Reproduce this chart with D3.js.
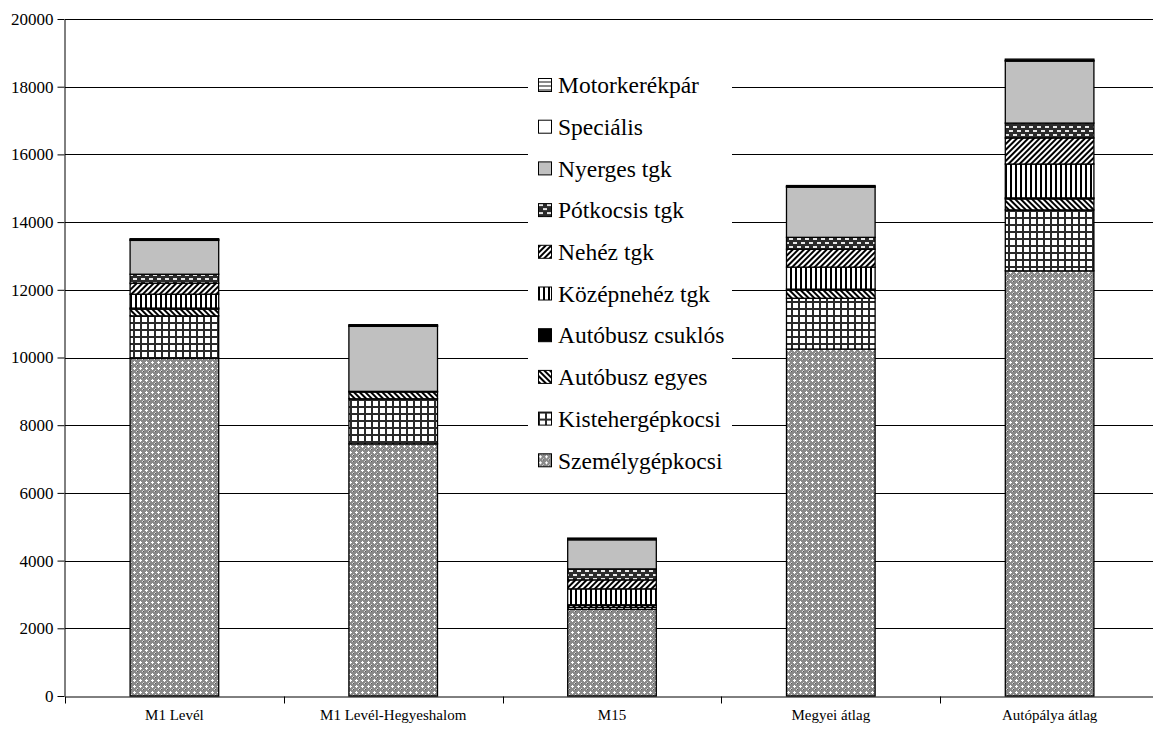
<!DOCTYPE html>
<html>
<head>
<meta charset="utf-8">
<style>
  body { margin: 0; background: #fff; }
  svg text { font-family: "Liberation Serif", "Times New Roman", "DejaVu Serif", serif; fill: #000; }
</style>
<title>Forgalom összetétele</title>
</head>
<body>
<script src="https://cdn.jsdelivr.net/npm/d3@7/dist/d3.min.js"></script>
<script>
  // categories (x axis)
  var categories = ["M1 Levél", "M1 Levél-Hegyeshalom", "M15", "Megyei átlag", "Autópálya átlag"];

  // series values, one array per vehicle type (bottom to top of the stack)
  var szemelygepkocsi   = [9980, 7450, 2560, 10250, 12560];
  var kistehergepkocsi  = [1250, 1330, 60, 1500, 1800];
  var autobuszEgyes     = [200, 200, 60, 240, 325];
  var autobuszCsuklos   = [30, 20, 15, 30, 30];
  var kozepnehezTgk     = [410, 0, 470, 650, 1000];
  var nehezTgk          = [325, 0, 265, 530, 770];
  var potkocsisTgk      = [265, 0, 325, 350, 440];
  var nyergesTgk        = [1000, 1920, 860, 1480, 1830];
  var specialis         = [20, 20, 20, 20, 20];
  var motorkerekpar     = [30, 30, 30, 30, 40];

  var seriesNames = ["Személygépkocsi", "Kistehergépkocsi", "Autóbusz egyes", "Autóbusz csuklós",
                     "Középnehéz tgk", "Nehéz tgk", "Pótkocsis tgk", "Nyerges tgk", "Speciális", "Motorkerékpár"];
  var seriesValues = [szemelygepkocsi, kistehergepkocsi, autobuszEgyes, autobuszCsuklos,
                      kozepnehezTgk, nehezTgk, potkocsisTgk, nyergesTgk, specialis, motorkerekpar];
  var patternIds = ["p_szemely", "p_kisteher", "p_buszegyes", "p_busz_csuklos", "p_kozepnehez",
                    "p_nehez", "p_potkocsis", "p_nyerges", "p_specialis", "p_motor"];

  // y ticks
  var yTicks = [0, 2000, 4000, 6000, 8000, 10000, 12000, 14000, 16000, 18000, 20000];

  var width = 1153, height = 731;
  var plotLeft = 65, plotRight = 1159, plotTop = 19, plotBottom = 696;
  var serif = "'Liberation Serif', 'Times New Roman', 'DejaVu Serif', serif";

  var svg = d3.select("body").append("svg")
    .attr("width", width)
    .attr("height", height);

  // ---- patterns ----
  var defs = svg.append("defs");

  // Személygépkocsi: gray with white crosses
  var p = defs.append("pattern").attr("id", "p_szemely").attr("patternUnits", "userSpaceOnUse")
    .attr("width", 6).attr("height", 6);
  p.append("rect").attr("width", 6).attr("height", 6).attr("fill", "#8a8a8a");
  p.append("rect").attr("x", 2).attr("y", 1).attr("width", 1).attr("height", 3).attr("fill", "#fff");
  p.append("rect").attr("x", 1).attr("y", 2).attr("width", 3).attr("height", 1).attr("fill", "#fff");
  p.append("rect").attr("x", 5).attr("y", 4).attr("width", 1).attr("height", 1).attr("fill", "#d8d8d8");
  p.append("rect").attr("x", 4).attr("y", 5).attr("width", 1).attr("height", 1).attr("fill", "#d8d8d8");
  p.append("rect").attr("x", 5).attr("y", 5).attr("width", 1).attr("height", 1).attr("fill", "#555");

  // Kistehergépkocsi: grid
  p = defs.append("pattern").attr("id", "p_kisteher").attr("patternUnits", "userSpaceOnUse")
    .attr("width", 7).attr("height", 7);
  p.append("rect").attr("width", 7).attr("height", 7).attr("fill", "#fff");
  p.append("rect").attr("width", 2).attr("height", 7).attr("fill", "#2a2a2a");
  p.append("rect").attr("width", 7).attr("height", 2).attr("fill", "#2a2a2a");

  // Autóbusz egyes: "\\\\" diagonal
  p = defs.append("pattern").attr("id", "p_buszegyes").attr("patternUnits", "userSpaceOnUse")
    .attr("width", 4).attr("height", 4).attr("patternTransform", "rotate(-45)");
  p.append("rect").attr("width", 4).attr("height", 4).attr("fill", "#fff");
  p.append("rect").attr("width", 2).attr("height", 4).attr("fill", "#000");

  // Autóbusz csuklós: solid black
  p = defs.append("pattern").attr("id", "p_busz_csuklos").attr("patternUnits", "userSpaceOnUse")
    .attr("width", 4).attr("height", 4);
  p.append("rect").attr("width", 4).attr("height", 4).attr("fill", "#000");

  // Középnehéz: vertical stripes
  p = defs.append("pattern").attr("id", "p_kozepnehez").attr("patternUnits", "userSpaceOnUse")
    .attr("width", 5).attr("height", 5);
  p.append("rect").attr("width", 5).attr("height", 5).attr("fill", "#fff");
  p.append("rect").attr("width", 2).attr("height", 5).attr("fill", "#000");

  // Nehéz: "////" diagonal
  p = defs.append("pattern").attr("id", "p_nehez").attr("patternUnits", "userSpaceOnUse")
    .attr("width", 4).attr("height", 4).attr("patternTransform", "rotate(45)");
  p.append("rect").attr("width", 4).attr("height", 4).attr("fill", "#fff");
  p.append("rect").attr("width", 2).attr("height", 4).attr("fill", "#000");

  // Pótkocsis: dark with white dashes
  p = defs.append("pattern").attr("id", "p_potkocsis").attr("patternUnits", "userSpaceOnUse")
    .attr("width", 8).attr("height", 8);
  p.append("rect").attr("width", 8).attr("height", 8).attr("fill", "#2b2b2b");
  p.append("rect").attr("x", 1).attr("y", 2).attr("width", 4).attr("height", 2).attr("fill", "#e8e8e8");
  p.append("rect").attr("x", 5).attr("y", 6).attr("width", 3).attr("height", 2).attr("fill", "#e8e8e8");
  p.append("rect").attr("x", 0).attr("y", 6).attr("width", 1).attr("height", 2).attr("fill", "#e8e8e8");

  // Nyerges: solid gray
  p = defs.append("pattern").attr("id", "p_nyerges").attr("patternUnits", "userSpaceOnUse")
    .attr("width", 4).attr("height", 4);
  p.append("rect").attr("width", 4).attr("height", 4).attr("fill", "#c0c0c0");

  // Speciális: white
  p = defs.append("pattern").attr("id", "p_specialis").attr("patternUnits", "userSpaceOnUse")
    .attr("width", 4).attr("height", 4);
  p.append("rect").attr("width", 4).attr("height", 4).attr("fill", "#fff");

  // Motorkerékpár: horizontal gray lines
  p = defs.append("pattern").attr("id", "p_motor").attr("patternUnits", "userSpaceOnUse")
    .attr("width", 4).attr("height", 4);
  p.append("rect").attr("width", 4).attr("height", 4).attr("fill", "#fff");
  p.append("rect").attr("width", 4).attr("height", 2).attr("fill", "#888");

  // ---- scales ----
  var x = d3.scaleBand().domain(categories).range([plotLeft, plotRight]).padding(0);
  var y = d3.scaleLinear().domain([0, 20000]).range([plotBottom, plotTop]);
  var barW = x.bandwidth() * 0.405;

  // ---- gridlines ----
  svg.append("g").attr("id", "grid")
    .selectAll("line")
    .data(yTicks.slice(1))
    .enter().append("line")
    .attr("x1", plotLeft).attr("x2", width)
    .attr("y1", function(d) { return Math.round(y(d)) + 0.5; })
    .attr("y2", function(d) { return Math.round(y(d)) + 0.5; })
    .attr("stroke", "#000").attr("stroke-width", 1);

  // ---- stacked bars ----
  var rows = categories.map(function(c, i) {
    var r = { cat: c };
    seriesNames.forEach(function(s, k) { r[s] = seriesValues[k][i]; });
    return r;
  });
  var stacked = d3.stack().keys(seriesNames)(rows);

  svg.append("g").attr("id", "bars")
    .selectAll("g")
    .data(stacked)
    .enter().append("g")
    .attr("fill", function(d, k) { return "url(#" + patternIds[k] + ")"; })
    .selectAll("rect")
    .data(function(d) { return d; })
    .enter().append("rect")
    .attr("x", function(d) { return x(d.data.cat) + (x.bandwidth() - barW) / 2; })
    .attr("y", function(d) { return y(d[1]); })
    .attr("width", barW)
    .attr("height", function(d) { return y(d[0]) - y(d[1]); })
    .attr("stroke", "#000")
    .attr("stroke-width", 1.3);

  // ---- y axis ----
  var yAxis = svg.append("g")
    .attr("id", "y_axis")
    .attr("transform", "translate(" + (plotLeft - 0.5) + ",0)")
    .call(d3.axisLeft(y).tickValues(yTicks).tickFormat(d3.format("d"))
      .tickSize(7).tickPadding(4).tickSizeOuter(0));
  yAxis.attr("font-family", null);
  yAxis.select(".domain").attr("stroke", "#000");
  yAxis.selectAll("text").style("font-size", "17px").style("font-family", serif);

  // ---- x axis ----
  var xAxis = svg.append("g")
    .attr("id", "x_axis")
    .attr("transform", "translate(0," + (plotBottom + 0.5) + ")")
    .call(d3.axisBottom(x).tickSize(0).tickPadding(13).tickSizeOuter(0));
  xAxis.attr("font-family", null);
  xAxis.select(".domain").attr("stroke", "#000");
  xAxis.selectAll("text").style("font-size", "15px").style("font-family", serif);
  // tick marks between categories
  xAxis.selectAll(".sep")
    .data(categories)
    .enter().append("line")
    .attr("class", "sep")
    .attr("x1", function(d) { return Math.round(x(d)) + 0.5; })
    .attr("x2", function(d) { return Math.round(x(d)) + 0.5; })
    .attr("y1", 0).attr("y2", 7)
    .attr("stroke", "#000");

  // ---- legend ----
  var legend = svg.append("g").attr("id", "legend");
  legend.append("rect")
    .attr("x", 528).attr("y", 66).attr("width", 204).attr("height", 416)
    .attr("fill", "#fff");
  var legendOrder = d3.range(seriesNames.length).reverse();
  var item = legend.selectAll(".item")
    .data(legendOrder)
    .enter().append("g")
    .attr("class", "item")
    .attr("transform", function(k, i) { return "translate(538," + (85 + i * 41.7) + ")"; });
  item.append("rect")
    .attr("x", 0.5).attr("y", -6.5).attr("width", 13).attr("height", 13)
    .attr("fill", function(k) { return "url(#" + patternIds[k] + ")"; })
    .attr("stroke", "#000").attr("stroke-width", 1);
  item.append("text")
    .attr("x", 20).attr("y", 0).attr("dy", "0.35em")
    .style("font-size", "23.5px")
    .style("font-family", serif)
    .text(function(k) { return seriesNames[k]; });
</script>
</body>
</html>
